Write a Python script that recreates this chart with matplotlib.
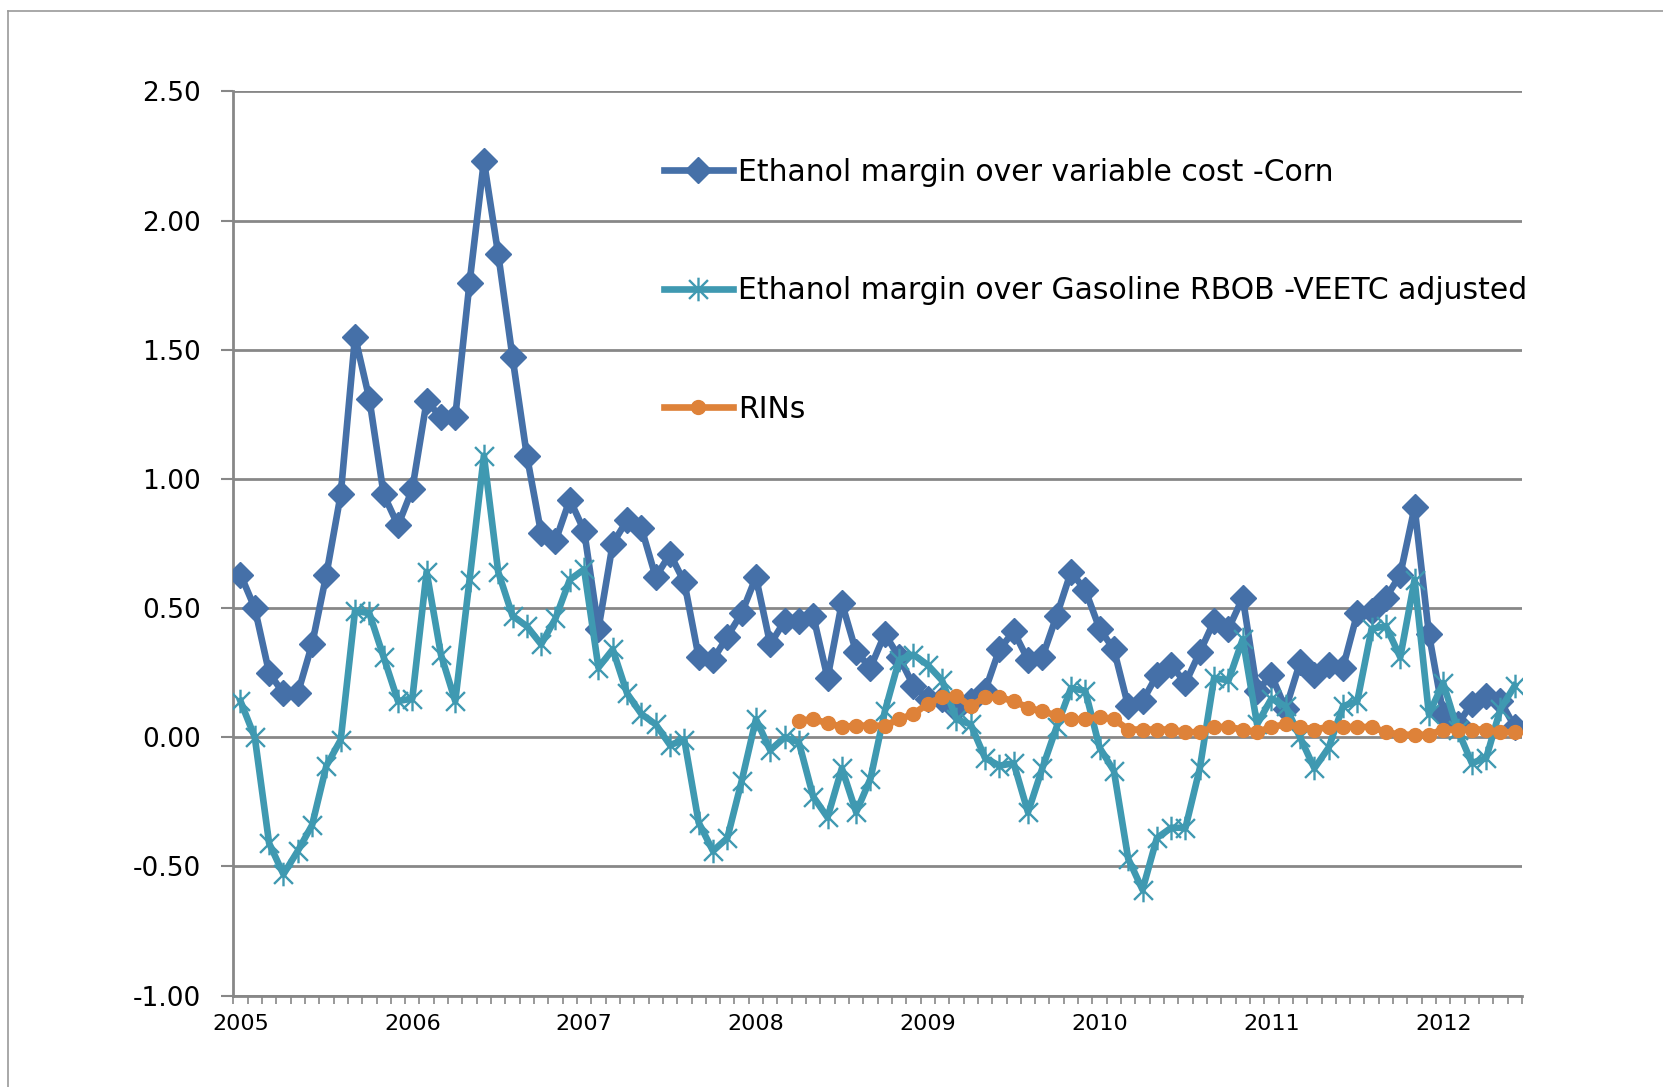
import numpy as np
import matplotlib.pyplot as plt
from matplotlib.path import Path
from matplotlib.lines import Line2D

# monthly values, Jan 2005 - Jun 2012
years = ['2005', '2006', '2007', '2008', '2009', '2010', '2011', '2012']

corn = [0.63, 0.50, 0.25, 0.17, 0.17, 0.36, 0.63, 0.94, 1.55, 1.31, 0.94, 0.82,
        0.96, 1.30, 1.24, 1.24, 1.76, 2.23, 1.87, 1.47, 1.09, 0.79, 0.76, 0.92,
        0.80, 0.42, 0.75, 0.84, 0.81, 0.62, 0.71, 0.60, 0.31, 0.30, 0.39, 0.48,
        0.62, 0.36, 0.45, 0.45, 0.47, 0.23, 0.52, 0.33, 0.27, 0.40, 0.31, 0.20,
        0.15, 0.15, 0.11, 0.14, 0.18, 0.34, 0.41, 0.30, 0.31, 0.47, 0.64, 0.57,
        0.42, 0.34, 0.12, 0.14, 0.24, 0.28, 0.21, 0.33, 0.45, 0.42, 0.54, 0.18,
        0.24, 0.11, 0.29, 0.24, 0.28, 0.27, 0.48, 0.49, 0.54, 0.63, 0.89, 0.40,
        0.09, 0.05, 0.13, 0.16, 0.14, 0.04]

rbob = [0.14, 0.00, -0.41, -0.53, -0.44, -0.34, -0.11, -0.01, 0.49, 0.48, 0.31, 0.14,
        0.15, 0.64, 0.32, 0.14, 0.61, 1.09, 0.64, 0.47, 0.43, 0.36, 0.46, 0.61,
        0.65, 0.27, 0.34, 0.17, 0.09, 0.05, -0.03, -0.01, -0.33, -0.44, -0.39, -0.17,
        0.07, -0.05, 0.00, -0.02, -0.23, -0.31, -0.12, -0.29, -0.16, 0.10, 0.30, 0.32,
        0.28, 0.22, 0.07, 0.05, -0.08, -0.11, -0.10, -0.29, -0.12, 0.04, 0.19, 0.18,
        -0.04, -0.13, -0.47, -0.59, -0.39, -0.35, -0.35, -0.12, 0.23, 0.22, 0.38, 0.05,
        0.15, 0.12, 0.00, -0.12, -0.04, 0.12, 0.14, 0.42, 0.43, 0.31, 0.61, 0.09,
        0.21, 0.03, -0.10, -0.08, 0.11, 0.20]

# RINs start Apr 2008
rins = [0.065, 0.07, 0.055, 0.04, 0.045, 0.045, 0.045, 0.07, 0.09,
        0.13, 0.155, 0.16, 0.12, 0.155, 0.155, 0.14, 0.115, 0.10, 0.085, 0.07, 0.07,
        0.08, 0.07, 0.03, 0.03, 0.03, 0.03, 0.02, 0.02, 0.04, 0.04, 0.03, 0.02,
        0.04, 0.05, 0.04, 0.03, 0.04, 0.04, 0.04, 0.04, 0.02, 0.01, 0.01, 0.01,
        0.03, 0.03, 0.03, 0.03, 0.02, 0.02]

labels = ['Ethanol margin over variable cost -Corn',
          'Ethanol margin over Gasoline RBOB -VEETC adjusted',
          'RINs']

blue = '#4570A8'
teal = '#3F99B1'
orange = '#DE8239'
grid_c = '#878787'

star = Path([(-1, -1), (1, 1), (-1, 1), (1, -1), (0, -1.25), (0, 1.25)],
            [Path.MOVETO, Path.LINETO, Path.MOVETO, Path.LINETO, Path.MOVETO, Path.LINETO])

fig = plt.figure(figsize=(16.63, 10.87), dpi=100)
ax = fig.add_axes([0.1403, 0.0840, 0.7749, 0.8320])

x = np.arange(len(corn))
xr = x[len(corn) - len(rins):]

ax.plot(x, corn, color=blue, lw=4.8, marker='D', ms=13.5, label=labels[0], zorder=3)
ax.plot(x, rbob, color=teal, lw=4.8, marker=star, ms=17, mew=1.7, mec=teal,
        label=labels[1], zorder=3)
ax.plot(xr, rins, color=orange, lw=4.8, marker='o', ms=10, label=labels[2], zorder=4)

ax.set_xlim(-0.5, len(corn) - 0.5)
ax.set_ylim(-1.0, 2.5)
ax.set_yticks(np.arange(-1.0, 2.51, 0.5))
ax.set_yticklabels(['%.2f' % v for v in np.arange(-1.0, 2.51, 0.5)], fontsize=19)
ax.yaxis.grid(True, color=grid_c, lw=2)
ax.set_axisbelow(True)

ax.set_xticks(x[::12])
ax.set_xticklabels(years, fontsize=16)
ax.set_xticks(np.arange(-0.5, len(corn), 1), minor=True)
ax.tick_params(axis='x', which='major', length=0, pad=13)
ax.tick_params(axis='x', which='minor', length=6, width=1.2, color=grid_c, direction='out')
ax.tick_params(axis='y', length=9, width=1.5, color=grid_c, pad=14)

for s in ['top', 'right']:
    ax.spines[s].set_visible(False)
for s in ['left', 'bottom']:
    ax.spines[s].set_color(grid_c)
    ax.spines[s].set_linewidth(2)

ax.legend(loc='upper left', bbox_to_anchor=(0.392, 0.866), bbox_transform=fig.transFigure,
          frameon=False, fontsize=21.5, labelspacing=3.0, handlelength=2.3,
          handletextpad=0.2, borderaxespad=0)

# outer chart border
fig.add_artist(Line2D([0.005, 0.005], [0.0, 0.99], color='#9a9a9a', lw=1.2))
fig.add_artist(Line2D([0.005, 1.0], [0.99, 0.99], color='#9a9a9a', lw=1.2))

plt.savefig('out.png')
